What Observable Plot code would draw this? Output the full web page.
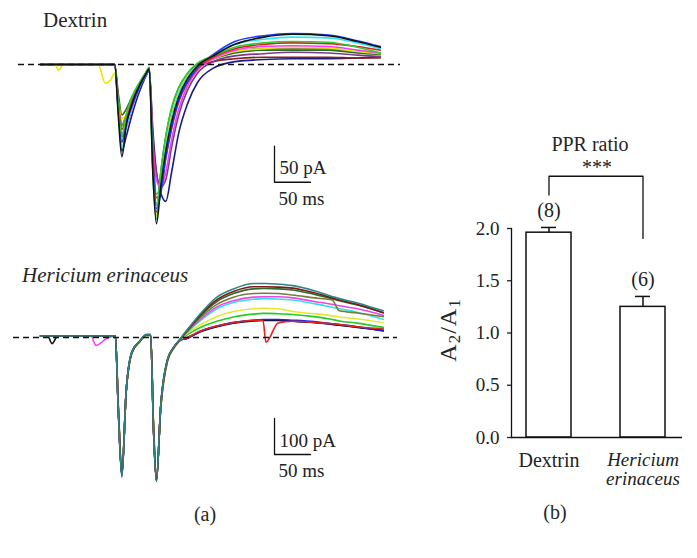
<!DOCTYPE html>
<html><head><meta charset="utf-8">
<script src="https://cdn.jsdelivr.net/npm/d3@7"></script>
<script src="https://cdn.jsdelivr.net/npm/@observablehq/plot@0.6"></script>
<style>
body{margin:0;background:#fff}
#fig{position:relative;width:697px;height:558px;background:#fff;overflow:hidden}
#fig svg{position:absolute}
</style></head><body><div id="fig"></div>
<script>
// ===== (a) top: Dextrin, paired-pulse currents (time in ms, current in pA) =====
const dexTime = [0,20,25,32,80,90,97,103,108,113,119,127,138,147,151,156,161,167,174,182,192,204,218,240,270,310,350,400,440,472];
const dexNavy    = [0,0,0,0,0,0,0,0,-62,-120,-100,-70,-36,-15,-8,-90,-150,-178,-190,-150,-95,-55,-25,-5,4,7,8,8,9,11];
const dexBrown   = [0,0,0,0,0,0,0,0,-48,-85,-70,-50,-26,-12,-5,-125,-195,-160,-110,-72,-40,-18,-4,4,8,10,10,10,9,9];
const dexPurple  = [0,0,0,0,0,0,0,0,-55,-100,-85,-58,-30,-13,-6,-100,-150,-170,-160,-115,-70,-36,-12,4,12,15,17,16,13,11];
const dexOlive   = [0,0,0,0,0,0,0,0,-50,-85,-70,-48,-26,-11,-5,-120,-180,-165,-120,-82,-46,-22,-4,8,18,22,22,22,17,14];
const dexDkGreen = [0,0,0,0,0,0,0,0,-40,-70,-62,-45,-25,-10,-4,-140,-205,-150,-100,-62,-32,-14,0,8,16,20,20,20,16,14];
const dexYellow  = [0,0,-8,0,0,-26,-22,-12,-50,-75,-70,-55,-30,-12,-6,-140,-210,-165,-110,-70,-38,-16,-2,8,18,22,24,23,18,15];
const dexMagenta = [0,0,0,0,0,0,0,0,-55,-95,-88,-62,-30,-14,-7,-110,-160,-170,-150,-105,-62,-30,-8,8,20,25,26,25,20,16];
const dexRed     = [0,0,0,0,0,0,0,0,-50,-90,-75,-52,-28,-12,-6,-120,-185,-175,-130,-90,-52,-26,-6,10,22,28,30,29,25,20];
const dexCyan    = [0,0,0,0,0,0,0,0,-65,-115,-88,-60,-30,-13,-6,-140,-195,-160,-115,-75,-40,-18,-2,13,28,35,38,37,30,22];
const dexBlue    = [0,0,0,0,0,0,0,0,-60,-108,-80,-58,-30,-13,-6,-130,-200,-180,-130,-88,-50,-24,-4,14,32,40,43,41,33,25];
const dexGreen   = [0,0,0,0,0,0,0,0,-55,-100,-70,-45,-24,-10,-4,-150,-215,-150,-100,-60,-32,-12,2,12,24,30,32,31,24,16];
const dexBlack   = [0,0,0,0,0,0,0,0,-70,-128,-85,-55,-28,-12,-6,-150,-221,-170,-120,-80,-45,-20,-2,12,28,38,42,40,32,24];
const dexNames  = ["navy","brown","purple","olive","dkgreen","yellow","magenta","red","cyan","blue","green","black"];
const dexColors = ["#1c1c80","#8b1e1e","#7a3a8a","#8a8a55","#2a6a2a","#e8e800","#f040f0","#e22222","#2ee6f0","#1f3cff","#2ecc2e","#111111"];
const dexSeries = [dexNavy,dexBrown,dexPurple,dexOlive,dexDkGreen,dexYellow,dexMagenta,dexRed,dexCyan,dexBlue,dexGreen,dexBlack];
const dexScaleBar = {t: 325, I: -163.5, ms: 50, pA: 50};

// ===== (a) bottom: Hericium erinaceus =====
const heTime = [0,10,16,24,70,77,92,104,108,113,119,127,138,147,153,157,161,167,176,185,194,204,222,245,268,296,309,313,330,350,380,405,415,440,476];
const heNavy    = [4,4,4,4,4,4,4,4,-198,-383,-150,-40,-10,7,7,-256,-398,-190,-65,-28,-7,0,17,31,41,47,48,48,48,46,42,37,35,29,19];
const heBlack   = [4,4,-17,4,4,4,4,4,-195,-380,-150,-41,-10,7,7,-255,-396,-192,-66,-29,-8,-2,16,30,40,46,47,47,47,45,42,36,34,28,20];
const heBlue    = [4,4,4,4,4,4,4,4,-200,-388,-150,-40,-10,7,7,-258,-400,-192,-66,-29,-8,-2,17,32,42,48,50,50,50,48,44,38,36,30,18];
const heRed     = [4,4,4,4,4,4,4,4,-188,-370,-152,-43,-11,6,6,-245,-388,-196,-68,-30,-8,0,18,32,41,48,48,-13,40,45,42,38,36,30,24];
const heGreen   = [4,4,4,4,4,4,4,4,-190,-372,-150,-42,-11,6,6,-248,-390,-195,-68,-29,-7,8,28,45,57,65,67,67,66,64,58,50,46,40,28];
const heYellow  = [4,4,4,4,4,4,4,4,-185,-365,-155,-45,-12,6,6,-240,-385,-200,-70,-30,-7,12,35,58,72,80,81,81,80,72,66,60,57,52,41];
const heCyan    = [4,4,4,4,4,4,4,4,-196,-380,-148,-40,-10,8,8,-256,-396,-190,-64,-27,-6,15,47,80,97,106,108,108,107,104,94,84,80,70,50];
const heMagenta = [4,4,4,4,4,-22,-3,4,-192,-378,-150,-41,-10,7,7,-252,-394,-190,-65,-28,-6,16,50,85,102,112,113,113,113,110,100,92,88,80,62];
const heOlive   = [4,4,4,4,4,4,4,4,-190,-375,-152,-42,-11,7,7,-250,-392,-195,-66,-29,-6,18,55,92,112,122,123,123,122,118,110,104,74,68,58];
const heDkGreen = [4,4,4,4,4,4,4,4,-198,-382,-148,-40,-10,8,8,-258,-396,-188,-63,-27,-5,20,60,100,122,135,136,136,135,132,120,108,102,90,69];
const heDkRed   = [4,4,4,4,4,4,4,4,-195,-380,-150,-42,-11,7,7,-255,-398,-192,-66,-28,-5,20,62,105,128,141,141,141,140,137,124,110,104,92,69];
const heTeal    = [4,4,4,4,4,4,4,4,-200,-385,-150,-40,-10,8,8,-260,-400,-190,-64,-27,-4,22,66,112,135,150,150,150,148,144,130,114,108,96,74];
const heNames  = ["navy","black","blue","red","green","yellow","cyan","magenta","olive","dkgreen","dkred","teal"];
const heColors = ["#1a1a80","#111111","#2222ee","#e62222","#22cc22","#e6e633","#33e0e6","#ee44ee","#7a7a3a","#2d6a2d","#7a1a1a","#2e8585"];
const heSeries = [heNavy,heBlack,heBlue,heRed,heGreen,heYellow,heCyan,heMagenta,heOlive,heDkGreen,heDkRed,heTeal];
const heScaleBar = {t: 325, I: -325, ms: 50, pA: 100};

// ===== (b) PPR ratio =====
const groups  = ["Dextrin", "Hericium erinaceus"];
const pprMean = [1.96, 1.25];
const pprSem  = [0.05, 0.10];
const pprN    = ["(8)", "(6)"];
const pprTicks = [0, 0.5, 1.0, 1.5, 2.0];
const sig = {left: 2.32, top: 2.5, right: 1.905, label: "***"};

const SERIF = "'Liberation Serif', 'DejaVu Serif', serif";
const fig = document.getElementById("fig");

function toRows(time, names, series) {
  return series.flatMap((vals, k) => vals.map((v, i) => ({t: time[i], I: v, name: names[k]})));
}
function barPts(b) {
  return [{t: b.t, I: b.I + b.pA}, {t: b.t, I: b.I}, {t: b.t + b.ms, I: b.I}];
}
function tracePlot(time, names, colors, series, bar, opts) {
  return Plot.plot({
    width: 400, height: opts.height,
    marginTop: 0, marginBottom: 0, marginLeft: opts.ml, marginRight: opts.mr,
    x: {domain: opts.xd, axis: null},
    y: {domain: opts.yd, axis: null},
    color: {domain: names, range: colors},
    style: {fontFamily: SERIF, fontSize: "19px", color: "#222", background: "transparent"},
    marks: [
      Plot.line(toRows(time, names, series), {x: "t", y: "I", z: "name", stroke: "name", strokeWidth: 1.6, curve: "monotone-x"}),
      Plot.ruleY([0], {stroke: "#111", strokeWidth: 1.3, strokeDasharray: "6,4"}),
      Plot.line(barPts(bar), {x: "t", y: "I", stroke: "#111", strokeWidth: 1.3}),
      Plot.text([bar], {x: "t", y: d => d.I + d.pA / 2, text: d => `${d.pA} pA`, textAnchor: "start", dx: 5, dy: 4, fontSize: 19}),
      Plot.text([bar], {x: "t", y: "I", text: d => `${d.ms} ms`, textAnchor: "start", lineAnchor: "top", dx: 4, dy: 9, fontSize: 19})
    ]
  });
}

const topPlot = tracePlot(dexTime, dexNames, dexColors, dexSeries, dexScaleBar,
  {height: 240, ml: 18, mr: 0, xd: [-30.56, 500], yd: [-244.4, 88.9]});
topPlot.style.left = "0px"; topPlot.style.top = "0px";
fig.appendChild(topPlot);

const bottomPlot = tracePlot(heTime, heNames, heColors, heSeries, heScaleBar,
  {height: 260, ml: 13, mr: 3, xd: [-37.5, 495.8], yd: [-452.8, 269.4]});
bottomPlot.style.left = "0px"; bottomPlot.style.top = "240px";
fig.appendChild(bottomPlot);

const bars = groups.map((g, i) => ({group: g, mean: pprMean[i], sem: pprSem[i], n: pprN[i]}));
const bracket = [
  {group: groups[0], y: sig.left}, {group: groups[0], y: sig.top},
  {group: groups[1], y: sig.top}, {group: groups[1], y: sig.right}
];
const pprPlot = Plot.plot({
  width: 297, height: 558,
  marginLeft: 111, marginRight: 15, marginTop: 228, marginBottom: 121,
  x: {domain: groups, paddingInner: 0.525, paddingOuter: 0.165, align: 0.45, axis: null},
  y: {domain: [0, 2], axis: null},
  style: {fontFamily: SERIF, fontSize: "20px", color: "#222", background: "transparent"},
  marks: [
    Plot.barY(bars, {x: "group", y: "mean", fill: "white", stroke: "#111", strokeWidth: 1.5}),
    Plot.ruleX(bars, {x: "group", y1: "mean", y2: d => d.mean + d.sem, stroke: "#111", strokeWidth: 1.5}),
    Plot.tickY(bars, {x: "group", y: d => d.mean + d.sem, insetLeft: 15, insetRight: 15, stroke: "#111", strokeWidth: 1.5}),
    Plot.text(bars, {x: "group", y: d => d.mean + d.sem, text: "n", lineAnchor: "bottom", dy: -10, fontSize: 20}),
    Plot.line(bracket, {x: "group", y: "y", stroke: "#111", strokeWidth: 1.3}),
    Plot.text([sig], {y: "top", text: "label", frameAnchor: "middle", lineAnchor: "bottom", dy: -2, fontSize: 20}),
    Plot.axisY({ticks: pprTicks, tickFormat: d3.format(".1f"), tickSize: 4, tickPadding: 8, fontSize: 19, label: null, strokeWidth: 1.3}),
    Plot.frame({anchor: "left", stroke: "#111", strokeWidth: 1.3}),
    Plot.ruleY([0], {stroke: "#111", strokeWidth: 1.3}),
    Plot.text([bars[0]], {x: "group", text: "group", frameAnchor: "bottom", lineAnchor: "top", dy: 15, fontSize: 20}),
    Plot.text([bars[1]], {x: "group", text: d => d.group.replace(" ", "\n"), frameAnchor: "bottom", lineAnchor: "top", dy: 15, lineHeight: 1, fontSize: 19, fontStyle: "italic"})
  ]
});
pprPlot.style.left = "400px"; pprPlot.style.top = "0px";
fig.appendChild(pprPlot);

// ===== titles and panel labels =====
const ov = d3.create("svg").attr("width", 697).attr("height", 558)
  .style("left", "0px").style("top", "0px")
  .attr("font-family", SERIF).attr("fill", "#262626");
ov.append("text").attr("x", 43).attr("y", 27).attr("font-size", 21).text("Dextrin");
ov.append("text").attr("x", 22).attr("y", 282).attr("font-size", 21).attr("font-style", "italic").text("Hericium erinaceus");
ov.append("text").attr("x", 590).attr("y", 151).attr("font-size", 20).attr("text-anchor", "middle").text("PPR ratio");
ov.append("text").attr("x", 205).attr("y", 521).attr("font-size", 20).attr("text-anchor", "middle").text("(a)");
ov.append("text").attr("x", 555).attr("y", 519).attr("font-size", 20).attr("text-anchor", "middle").text("(b)");
const yl = ov.append("text").attr("transform", "translate(456,330) rotate(-90)")
  .attr("font-size", 24).attr("text-anchor", "middle").attr("letter-spacing", 1);
yl.append("tspan").text("A");
yl.append("tspan").attr("font-size", 17).attr("dy", 4).text("2");
yl.append("tspan").attr("dy", -4).text("/A");
yl.append("tspan").attr("font-size", 17).attr("dy", 4).text("1");
fig.appendChild(ov.node());
</script></body></html>
